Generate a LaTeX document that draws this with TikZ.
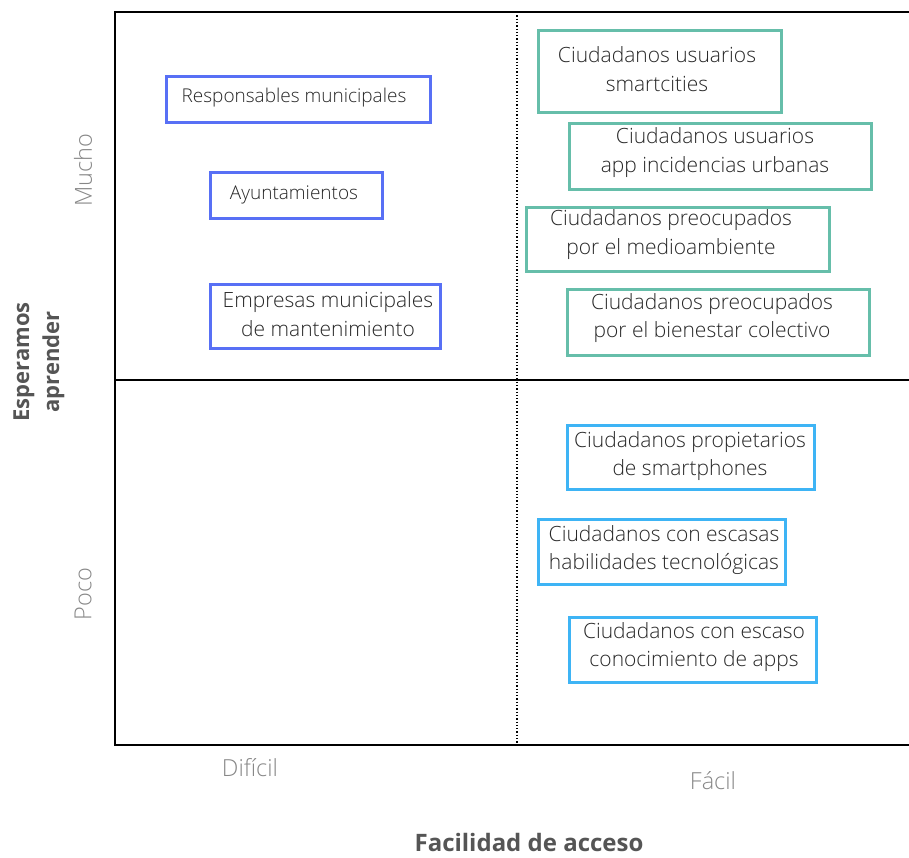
\documentclass[tikz,border=0pt]{standalone}
\usepackage{fontspec}
\setmainfont{Open Sans}
\newfontfamily\lightfont{Open Sans Light}
\definecolor{grpblue}{RGB}{88,112,245}
\definecolor{grpteal}{RGB}{102,190,170}
\definecolor{grpsky}{RGB}{62,180,245}
\definecolor{boxtext}{RGB}{40,40,40}
\definecolor{cattext}{RGB}{135,135,135}
\definecolor{axistitle}{RGB}{85,85,85}
\begin{document}
\begin{tikzpicture}[x=1pt,y=-1pt,
  axisline/.style={line width=1.6pt,black},
  midline/.style={line width=1.3pt,black,dotted},
  grp/.style={draw=#1,line width=2.8pt,inner sep=0pt,fill=white},
  lbl/.style={text=boxtext,align=center,inner sep=0pt,font=\lightfont\fontsize{21}{28.5}\selectfont},
  lblsmall/.style={lbl,font=\lightfont\fontsize{19}{24}\selectfont},
  cat/.style={text=cattext,inner sep=0pt,font=\lightfont\fontsize{23.5}{26}\selectfont},
  axtitle/.style={text=axistitle,inner sep=0pt,align=center,font=\bfseries\fontsize{22}{30}\selectfont}]
\useasboundingbox (0,0) rectangle (909,857);

% frame of the matrix
\coordinate (tl) at (115,12);
\coordinate (tr) at (909,12);
\coordinate (ml) at (115,380);
\coordinate (mr) at (909,380);
\coordinate (bl) at (115,745);
\coordinate (br) at (909,745);
\coordinate (dt) at (517,12);
\coordinate (db) at (517,745);
\draw[midline] (dt) -- (db);
\draw[axisline] (tr) -- (tl) -- (bl) -- (br);
\draw[axisline] (ml) -- (mr);

% upper left quadrant
\node[grp=grpblue,minimum width=264pt,minimum height=46pt] (resp) at (298.5,99.5) {};
\node[lblsmall] (resptxt) at (294,98) {Responsables municipales};
\node[grp=grpblue,minimum width=172pt,minimum height=46pt] (ayto) at (296.5,195.5) {};
\node[lblsmall] (aytotxt) at (294,195) {Ayuntamientos};
\node[grp=grpblue,minimum width=230pt,minimum height=64pt] (emp) at (325.5,316.5) {};
\node[lbl] (emptxt) at (328,314) {Empresas municipales\\de mantenimiento};

% upper right quadrant
\node[grp=grpteal,minimum width=243pt,minimum height=82pt] (smart) at (660,71.5) {};
\node[lbl] (smarttxt) at (657,69) {Ciudadanos usuarios\\smartcities};
\node[grp=grpteal,minimum width=302pt,minimum height=66pt] (app) at (720.5,156.5) {};
\node[lbl] (apptxt) at (715,152.5) {Ciudadanos usuarios\\app incidencias urbanas};
\node[grp=grpteal,minimum width=303pt,minimum height=64pt] (medio) at (678,239.5) {};
\node[lbl] (mediotxt) at (671,234.5) {Ciudadanos preocupados\\por el medioambiente};
\node[grp=grpteal,minimum width=302pt,minimum height=66pt] (bien) at (718.5,322.5) {};
\node[lbl] (bientxt) at (712,318) {Ciudadanos preocupados\\por el bienestar colectivo};

% lower right quadrant
\node[grp=grpsky,minimum width=247pt,minimum height=64pt] (prop) at (691,457.5) {};
\node[lbl] (proptxt) at (690,456) {Ciudadanos propietarios\\de smartphones};
\node[grp=grpsky,minimum width=247pt,minimum height=65pt] (hab) at (662,552) {};
\node[lbl] (habtxt) at (664,550) {Ciudadanos con escasas\\habilidades tecnológicas};
\node[grp=grpsky,minimum width=247pt,minimum height=65pt] (apps) at (693,650) {};
\node[lbl] (appstxt) at (694,647) {Ciudadanos con escaso\\conocimiento de apps};

% axis labels
\node[cat,rotate=90] (mucho) at (83,170) {Mucho};
\node[cat,rotate=90] (poco) at (83,594) {Poco};
\node[cat] (dificil) at (250,768) {Difícil};
\node[cat] (facil) at (713,781) {Fácil};
\node[axtitle,rotate=90] (yaxis) at (39,362) {Esperamos\\aprender};
\node[axtitle,anchor=base,font=\bfseries\fontsize{24}{30}\selectfont] (xaxis) at (529,851) {Facilidad de acceso};
\end{tikzpicture}
\end{document}
